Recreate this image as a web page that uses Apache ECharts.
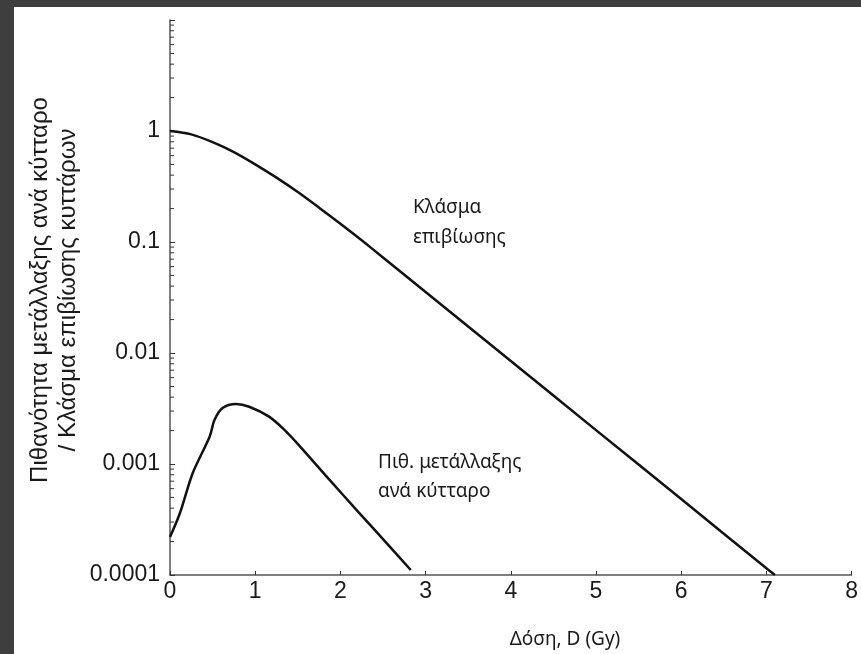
<!DOCTYPE html>
<html><head><meta charset="utf-8">
<script src="https://cdn.jsdelivr.net/npm/echarts@6/dist/echarts.min.js"></script>
<style>
html,body{margin:0;padding:0;width:861px;height:654px;background:#3e3e3e;overflow:hidden}
#chart{position:absolute;left:14px;top:7px;width:847px;height:647px;background:#fff}
</style></head><body><div id="chart"></div>
<script>
// ---- data ----
const xTickValues = [0, 1, 2, 3, 4, 5, 6, 7, 8];
const yTickLabels = ['0.0001', '0.001', '0.01', '0.1', '1', ''];   // 1e-4 ... 1e1
const yDecades = [0.0001, 0.001, 0.01, 0.1, 1, 10];
const minorMultipliers = [2, 3, 4, 5, 6, 7, 8, 9];

const survivalDose     = [0, 0.25, 0.5, 0.75, 1.0, 1.25, 1.5, 1.75, 2.0, 2.25, 2.5, 3.0, 4.0, 5.0, 6.0, 7.0, 7.1];
const survivalFraction = [1, 0.933, 0.794, 0.646, 0.501, 0.380, 0.282, 0.204, 0.146, 0.1035, 0.0726, 0.0355, 0.00847, 0.00202, 0.000483, 0.000115, 0.0001];

const mutationDose = [0, 0.116, 0.267, 0.465, 0.523, 0.616, 0.776, 0.93, 1.163, 1.337, 1.512, 1.86, 2.209, 2.558, 2.826];
const mutationProb = [0.00022, 0.00036, 0.00083, 0.00176, 0.0025, 0.0032, 0.00348, 0.00328, 0.00267, 0.00205, 0.00148, 0.000738, 0.000371, 0.000188, 0.000111];

const yTitle1 = 'Πιθανότητα μετάλλαξης ανά κύτταρο';
const yTitle2 = '/ Κλάσμα επιβίωσης κυττάρων';
const xTitle = 'Δόση, D (Gy)';
const survivalLabel = ['Κλάσμα', 'επιβίωσης'];
const mutationLabel = ['Πιθ. μετάλλαξης', 'ανά κύτταρο'];

// ---- build ----
const minorTicks = [];
yDecades.slice(0, 5).forEach(d => minorMultipliers.forEach(m => minorTicks.push([0, d * m])));

const chart = echarts.init(document.getElementById('chart'));
const tickFont = {fontFamily: 'Liberation Sans, Arial, sans-serif', fontSize: 23, color: '#1a1a1a'};
const annFont = '19px "Noto Sans", sans-serif';
const titleFont = '24px "Liberation Sans", Arial, sans-serif';

chart.setOption({
  animation: false,
  grid: {left: 156, top: 13, width: 688, height: 555, containLabel: false},
  xAxis: {
    type: 'value', min: 0, max: 8, interval: 1,
    axisLine: {lineStyle: {color: '#555', width: 1.5}},
    axisTick: {inside: true, length: 4, lineStyle: {color: '#333', width: 1}},
    splitLine: {show: false},
    axisLabel: Object.assign({margin: 5, formatter: v => xTickValues.includes(v) ? String(v) : ''}, tickFont)
  },
  yAxis: {
    type: 'log', logBase: 10, min: 0.0001, max: 10,
    axisLine: {lineStyle: {color: '#555', width: 1.5}},
    axisTick: {inside: true, length: 5, lineStyle: {color: '#333', width: 1}},
    splitLine: {show: false},
    axisLabel: Object.assign({margin: 10, formatter: v => {
      const i = Math.round(Math.log10(v)) + 4;
      return yTickLabels[i] !== undefined ? yTickLabels[i] : '';
    }}, tickFont)
  },
  series: [
    {
      name: 'survival', type: 'line', showSymbol: false, smooth: 0.3,
      data: survivalDose.map((d, i) => [d, survivalFraction[i]]),
      lineStyle: {color: '#111', width: 2.5}
    },
    {
      name: 'mutation', type: 'line', showSymbol: false, smooth: 0.3,
      data: mutationDose.map((d, i) => [d, mutationProb[i]]),
      lineStyle: {color: '#111', width: 2.5}
    },
    {
      name: 'minorTicks', type: 'custom', silent: true, z: 3,
      data: minorTicks,
      renderItem: (params, api) => {
        const p = api.coord([api.value(0), api.value(1)]);
        return {type: 'line', shape: {x1: p[0], y1: p[1], x2: p[0] + 4, y2: p[1]},
                style: {stroke: '#333', lineWidth: 1}};
      }
    }
  ],
  graphic: [
    {type: 'text', x: 26, y: 283, rotation: Math.PI / 2,
     style: {text: yTitle1, font: titleFont, fill: '#1a1a1a', textAlign: 'center', textVerticalAlign: 'middle', align: 'center', verticalAlign: 'middle'}},
    {type: 'text', x: 54, y: 283, rotation: Math.PI / 2,
     style: {text: yTitle2, font: titleFont, fill: '#1a1a1a', textAlign: 'center', textVerticalAlign: 'middle', align: 'center', verticalAlign: 'middle'}},
    {type: 'text', x: 399, y: 201,
     style: {text: survivalLabel[0], font: annFont, fill: '#1a1a1a', textVerticalAlign: 'middle', verticalAlign: 'middle'}},
    {type: 'text', x: 399, y: 231,
     style: {text: survivalLabel[1], font: annFont, fill: '#1a1a1a', textVerticalAlign: 'middle', verticalAlign: 'middle'}},
    {type: 'text', x: 364, y: 456,
     style: {text: mutationLabel[0], font: annFont, fill: '#1a1a1a', textVerticalAlign: 'middle', verticalAlign: 'middle'}},
    {type: 'text', x: 364, y: 485,
     style: {text: mutationLabel[1], font: annFont, fill: '#1a1a1a', textVerticalAlign: 'middle', verticalAlign: 'middle'}},
    {type: 'text', x: 551, y: 633,
     style: {text: xTitle, font: annFont, fill: '#1a1a1a', textAlign: 'center', textVerticalAlign: 'middle', align: 'center', verticalAlign: 'middle'}}
  ]
});
</script></body></html>
